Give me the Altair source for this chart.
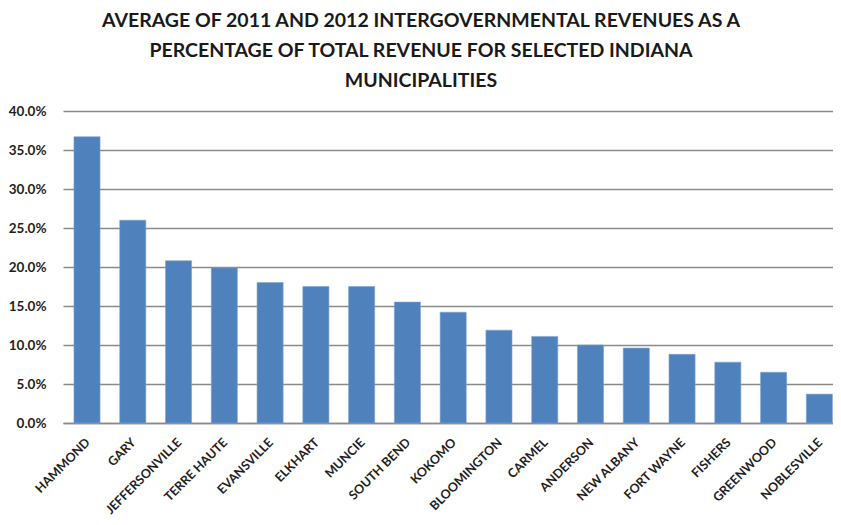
import altair as alt
import pandas as pd

cities = ["HAMMOND", "GARY", "JEFFERSONVILLE", "TERRE HAUTE", "EVANSVILLE", "ELKHART",
          "MUNCIE", "SOUTH BEND", "KOKOMO", "BLOOMINGTON", "CARMEL", "ANDERSON",
          "NEW ALBANY", "FORT WAYNE", "FISHERS", "GREENWOOD", "NOBLESVILLE"]
pct = [36.7, 26.0, 20.8, 19.9, 18.0, 17.5, 17.5, 15.5, 14.2, 11.9, 11.1, 10.0,
       9.6, 8.8, 7.8, 6.5, 3.7]
y_ticks = [0.0, 0.05, 0.10, 0.15, 0.20, 0.25, 0.30, 0.35, 0.40]
title_lines = ["AVERAGE OF 2011 AND 2012 INTERGOVERNMENTAL REVENUES AS A",
               "PERCENTAGE OF TOTAL REVENUE FOR SELECTED INDIANA",
               "MUNICIPALITIES"]

df = pd.DataFrame({"city": cities, "share": [v / 100 for v in pct]})

FONT = "Lato"

chart = alt.Chart(df).mark_bar(color="#4F81BD", stroke="#7ea3d1", strokeWidth=0.6).encode(
    x=alt.X("city:N", sort=cities, title=None,
            scale=alt.Scale(paddingInner=0.43, paddingOuter=0.126, align=0.95),
            axis=alt.Axis(labelAngle=-45, labelAlign="right", labelBaseline="middle",
                          labelPadding=17, labelOffset=1, ticks=False,
                          domainColor="#8a8a8a", domainWidth=1.5,
                          labelFont=FONT, labelFontSize=12.5, labelFontWeight="bold",
                          labelColor="#1e1e1e", labelOverlap=False)),
    y=alt.Y("share:Q", title=None,
            scale=alt.Scale(domain=[0, 0.4], nice=False),
            axis=alt.Axis(values=y_ticks, format=".1%", domain=False, ticks=False,
                          grid=True, gridColor="#8a8a8a", gridWidth=1.5,
                          labelPadding=17, labelFont=FONT, labelFontSize=13.5,
                          labelFontWeight="bold", labelColor="#1e1e1e")),
).properties(
    width=770,
    height=312,
    autosize=alt.AutoSizeParams(type="none"),
    padding={"left": 55, "top": 103, "right": 0, "bottom": 94},
    title=alt.TitleParams(text=title_lines, font=FONT, fontSize=19.5, fontWeight="bold",
                          color="#1a1a1a", lineHeight=30, anchor="middle",
                          baseline="bottom", frame="group", offset=-6, dx=-27),
).configure_view(stroke=None)

chart.save("out.html", embed_options={"renderer": "svg", "actions": False})
